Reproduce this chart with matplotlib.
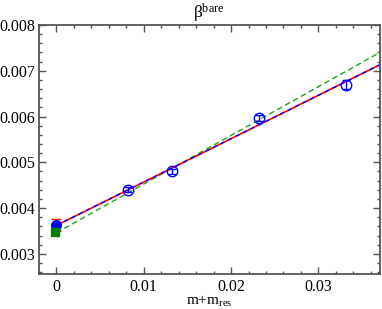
import numpy as np
import matplotlib.pyplot as plt
from matplotlib.ticker import MultipleLocator

plt.rcParams['font.family'] = ['Liberation Serif', 'DejaVu Serif']
plt.rcParams['mathtext.fontset'] = 'custom'
plt.rcParams['mathtext.rm'] = 'Liberation Serif'
plt.rcParams['mathtext.it'] = 'Liberation Serif:italic'

# datos (m + m_res, beta)
x_datos = [0.0082, 0.0132, 0.0232, 0.0332]
y_datos = [0.00440, 0.00480, 0.00597, 0.00670]
err_datos = [0.00005, 0.00006, 0.00007, 0.00010]

# extrapolaciones quirales en m+m_res = 0
x_lin = [0.0]
y_lin = [0.00362]
err_lin = [0.00013]
x_cuad = [-0.0002]
y_cuad = [0.00347]
err_cuad = [0.00005]

# ajustes (ordenada, pendiente)
ajuste_rojo = (0.00362, 0.0948)
ajuste_azul = (0.00362, 0.0948)
ajuste_verde = (0.00346, 0.1064)

fig = plt.figure(figsize=(3.82, 3.09), dpi=100)
ax = fig.add_axes([0.102, 0.112, 0.8915, 0.807])

xx = np.linspace(0.0, 0.037, 50)
ax.plot(xx, ajuste_verde[0] + ajuste_verde[1]*xx, color='#22a022', lw=1.0, ls=(0, (4, 2.5)))
ax.plot(xx, ajuste_rojo[0] + ajuste_rojo[1]*xx, color='red', lw=1.2)
ax.plot(xx, ajuste_azul[0] + ajuste_azul[1]*xx, color='blue', lw=1.0, ls=(0, (3, 3)))

ax.errorbar(x_datos, y_datos, yerr=err_datos, fmt='o', mfc='none', mec='blue',
            ecolor='blue', ms=7.5, mew=1.0, capsize=3, elinewidth=1.0)
ax.errorbar(x_cuad, y_cuad, yerr=err_cuad, fmt='s', color='green', ms=6,
            capsize=3, elinewidth=1.0)
ax.errorbar(x_lin, y_lin, yerr=err_lin, fmt='none', ecolor='red', capsize=3.5, elinewidth=1.0)
ax.plot(x_lin, y_lin, 'o', color='blue', ms=7)

ax.set_xlim(-0.002, 0.037)
ax.set_ylim(0.00255, 0.008)
ax.xaxis.set_major_locator(MultipleLocator(0.01))
ax.xaxis.set_minor_locator(MultipleLocator(0.002))
ax.yaxis.set_major_locator(MultipleLocator(0.001))
ax.yaxis.set_minor_locator(MultipleLocator(0.0002))
ax.set_xticks([0, 0.01, 0.02, 0.03])
ax.set_xticklabels(['0', '0.01', '0.02', '0.03'])
ax.set_yticks([0.003, 0.004, 0.005, 0.006, 0.007, 0.008])
ax.set_yticklabels(['0.003', '0.004', '0.005', '0.006', '0.007', '0.008'])

ax.tick_params(which='both', direction='in', top=True, right=True, colors='#555555',
               labelcolor='black', labelsize=11.5, pad=3)
ax.tick_params(which='major', length=5, width=1.0)
ax.tick_params(which='minor', length=2.5, width=1.0)
for s in ax.spines.values():
    s.set_color('#555555')
    s.set_linewidth(1.3)

ax.set_title(r'β$^{\mathrm{bare}}$', fontsize=12.5, pad=3)
ax.set_xlabel(r'm+m$_{\mathrm{res}}$', fontsize=11, labelpad=-0.5)

fig.savefig('out.png', dpi=100)
